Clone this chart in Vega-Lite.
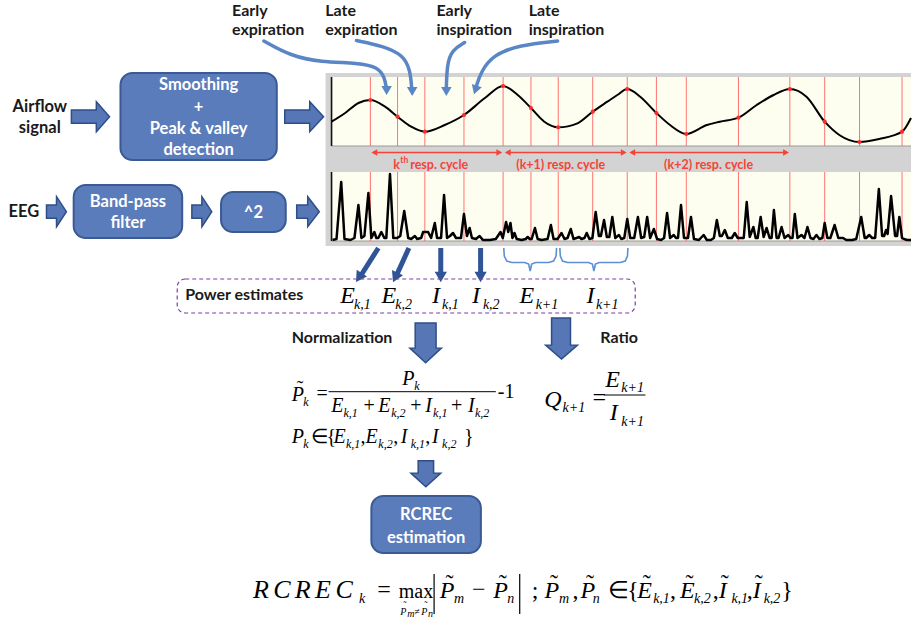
{
"$schema": "https://vega.github.io/schema/vega-lite/v6.json",
"width": 915, "height": 619,
"autosize": {"type": "fit", "contains": "padding"},
"padding": 0,
"background": "white",
"config": {"view": {"stroke": null}},
"datasets": {
"gray": [{"x": 327, "x2": 915, "y": 73, "y2": 246}],
"cream": [{"x": 333, "x2": 915, "y": 77, "y2": 146}, {"x": 333, "x2": 915, "y": 172, "y2": 241}],
"axv": [{"x": 333, "y": 77, "y2": 146}, {"x": 333, "y": 172, "y2": 241}],
"axh": [{"x": 333, "x2": 915, "y": 146}, {"x": 333, "x2": 915, "y": 241}],
"redv": [
{"x": 372, "y": 77, "y2": 146}, {"x": 399.3, "y": 77, "y2": 146}, {"x": 426.7, "y": 77, "y2": 146}, {"x": 466, "y": 77, "y2": 146},
{"x": 505.3, "y": 77, "y2": 146}, {"x": 533.3, "y": 77, "y2": 146}, {"x": 560.7, "y": 77, "y2": 146}, {"x": 595.3, "y": 77, "y2": 146},
{"x": 630, "y": 77, "y2": 146}, {"x": 659.3, "y": 77, "y2": 146}, {"x": 689.3, "y": 77, "y2": 146}, {"x": 741.7, "y": 77, "y2": 146},
{"x": 793.3, "y": 77, "y2": 146}, {"x": 828.3, "y": 77, "y2": 146}, {"x": 863.3, "y": 77, "y2": 146}, {"x": 906, "y": 77, "y2": 146},
{"x": 372, "y": 172, "y2": 241}, {"x": 399.3, "y": 172, "y2": 241}, {"x": 426.7, "y": 172, "y2": 241}, {"x": 466, "y": 172, "y2": 241},
{"x": 505.3, "y": 172, "y2": 241}, {"x": 533.3, "y": 172, "y2": 241}, {"x": 560.7, "y": 172, "y2": 241}, {"x": 595.3, "y": 172, "y2": 241},
{"x": 630, "y": 172, "y2": 241}, {"x": 659.3, "y": 172, "y2": 241}, {"x": 689.3, "y": 172, "y2": 241}, {"x": 741.7, "y": 172, "y2": 241},
{"x": 793.3, "y": 172, "y2": 241}, {"x": 828.3, "y": 172, "y2": 241}, {"x": 863.3, "y": 172, "y2": 241}, {"x": 906, "y": 172, "y2": 241}
],
"airflow": [
{"x": 333, "y": 121.7}, {"x": 346.7, "y": 113}, {"x": 360, "y": 103}, {"x": 372, "y": 100}, {"x": 386.7, "y": 106.7},
{"x": 399.3, "y": 116.7}, {"x": 413, "y": 126.7}, {"x": 426.7, "y": 131.7}, {"x": 446.7, "y": 125}, {"x": 466, "y": 115},
{"x": 486.7, "y": 98.3}, {"x": 505.3, "y": 86}, {"x": 520, "y": 95}, {"x": 533.3, "y": 108}, {"x": 546.7, "y": 121.7},
{"x": 560.7, "y": 127.3}, {"x": 580, "y": 123.3}, {"x": 595.3, "y": 111.7}, {"x": 610, "y": 101.7}, {"x": 620, "y": 95},
{"x": 630, "y": 89}, {"x": 643, "y": 96.7}, {"x": 659.3, "y": 113}, {"x": 673, "y": 125}, {"x": 689.3, "y": 134},
{"x": 710, "y": 125}, {"x": 723, "y": 121.7}, {"x": 741.7, "y": 117.7}, {"x": 760, "y": 105}, {"x": 777, "y": 95},
{"x": 793.3, "y": 89}, {"x": 810, "y": 96.7}, {"x": 828.3, "y": 121.7}, {"x": 843, "y": 135}, {"x": 863.3, "y": 142},
{"x": 883, "y": 139}, {"x": 906, "y": 131.7}, {"x": 915, "y": 118}
],
"reddots": [
{"x": 372, "y": 100}, {"x": 399.3, "y": 116.7}, {"x": 426.7, "y": 131.7}, {"x": 466, "y": 115}, {"x": 505.3, "y": 86},
{"x": 533.3, "y": 108}, {"x": 560.7, "y": 127.3}, {"x": 595.3, "y": 111.7}, {"x": 630, "y": 89}, {"x": 659.3, "y": 113},
{"x": 689.3, "y": 134}, {"x": 741.7, "y": 117.7}, {"x": 793.3, "y": 89}, {"x": 828.3, "y": 121.7}, {"x": 863.3, "y": 142},
{"x": 906, "y": 131.7}
],
"eeg": [
{"x": 334, "y": 240}, {"x": 338, "y": 239}, {"x": 342.7, "y": 182}, {"x": 346, "y": 239}, {"x": 352, "y": 240},
{"x": 356, "y": 238}, {"x": 360, "y": 205}, {"x": 363, "y": 238}, {"x": 366, "y": 236}, {"x": 370, "y": 193},
{"x": 373, "y": 238}, {"x": 376, "y": 232}, {"x": 378, "y": 238}, {"x": 380, "y": 238}, {"x": 383, "y": 232},
{"x": 386, "y": 238}, {"x": 388, "y": 238}, {"x": 391.7, "y": 174}, {"x": 395, "y": 238}, {"x": 399, "y": 238},
{"x": 402, "y": 236}, {"x": 406, "y": 211}, {"x": 410, "y": 238}, {"x": 413, "y": 239}, {"x": 416.7, "y": 236},
{"x": 419, "y": 239}, {"x": 423, "y": 238}, {"x": 425, "y": 232}, {"x": 430, "y": 232}, {"x": 433, "y": 238},
{"x": 436.7, "y": 223}, {"x": 439, "y": 238}, {"x": 443, "y": 238}, {"x": 446, "y": 195}, {"x": 449, "y": 238},
{"x": 452, "y": 236}, {"x": 455, "y": 233}, {"x": 458, "y": 238}, {"x": 463, "y": 238}, {"x": 466, "y": 214},
{"x": 469, "y": 236}, {"x": 471.7, "y": 228}, {"x": 474, "y": 238}, {"x": 478, "y": 239}, {"x": 481.7, "y": 236},
{"x": 485, "y": 240}, {"x": 492, "y": 240}, {"x": 498, "y": 239}, {"x": 502.7, "y": 232}, {"x": 505, "y": 238},
{"x": 508.3, "y": 222}, {"x": 510.5, "y": 232}, {"x": 512.7, "y": 223}, {"x": 514.7, "y": 238}, {"x": 516.7, "y": 233},
{"x": 519, "y": 239}, {"x": 524, "y": 240}, {"x": 528, "y": 239}, {"x": 530, "y": 237}, {"x": 532, "y": 239},
{"x": 534, "y": 239}, {"x": 537.3, "y": 228}, {"x": 540, "y": 239}, {"x": 544, "y": 240}, {"x": 550, "y": 239},
{"x": 553.3, "y": 225}, {"x": 556, "y": 239}, {"x": 560, "y": 239}, {"x": 564, "y": 233}, {"x": 567, "y": 239},
{"x": 570, "y": 238}, {"x": 573.3, "y": 229}, {"x": 576, "y": 239}, {"x": 579, "y": 238}, {"x": 581.7, "y": 237},
{"x": 584, "y": 239}, {"x": 587, "y": 238}, {"x": 589.3, "y": 233}, {"x": 592, "y": 239}, {"x": 595, "y": 238},
{"x": 598.3, "y": 212}, {"x": 601.5, "y": 236}, {"x": 603.5, "y": 236}, {"x": 606.7, "y": 220}, {"x": 609.5, "y": 237},
{"x": 612, "y": 237}, {"x": 615, "y": 217}, {"x": 618, "y": 238}, {"x": 621.7, "y": 235}, {"x": 624, "y": 239},
{"x": 627, "y": 238}, {"x": 630, "y": 219}, {"x": 633, "y": 238}, {"x": 637, "y": 238}, {"x": 640.7, "y": 217},
{"x": 644, "y": 238}, {"x": 647, "y": 237}, {"x": 650, "y": 217}, {"x": 653, "y": 238}, {"x": 656.7, "y": 229},
{"x": 660, "y": 239}, {"x": 664, "y": 240}, {"x": 667, "y": 238}, {"x": 670, "y": 213}, {"x": 673, "y": 238},
{"x": 676.7, "y": 235}, {"x": 679, "y": 238}, {"x": 681, "y": 238}, {"x": 684, "y": 205}, {"x": 687, "y": 238},
{"x": 691, "y": 238}, {"x": 694, "y": 217}, {"x": 697, "y": 239}, {"x": 702, "y": 240}, {"x": 706.7, "y": 235},
{"x": 710, "y": 240}, {"x": 714, "y": 240}, {"x": 717, "y": 238}, {"x": 720, "y": 220}, {"x": 723, "y": 236},
{"x": 725, "y": 236}, {"x": 728, "y": 230}, {"x": 731, "y": 238}, {"x": 735, "y": 238}, {"x": 738, "y": 233},
{"x": 741, "y": 238}, {"x": 744, "y": 238}, {"x": 747, "y": 238}, {"x": 750, "y": 202}, {"x": 753, "y": 237},
{"x": 756.7, "y": 227}, {"x": 759, "y": 238}, {"x": 761, "y": 238}, {"x": 764, "y": 217}, {"x": 767, "y": 237},
{"x": 770, "y": 228}, {"x": 773, "y": 238}, {"x": 775, "y": 238}, {"x": 777.3, "y": 210}, {"x": 780, "y": 238},
{"x": 782, "y": 238}, {"x": 785, "y": 227}, {"x": 788, "y": 238}, {"x": 791.7, "y": 235}, {"x": 794, "y": 238},
{"x": 796, "y": 238}, {"x": 798.3, "y": 214}, {"x": 801, "y": 238}, {"x": 805, "y": 235}, {"x": 808, "y": 238},
{"x": 811, "y": 227}, {"x": 814, "y": 238}, {"x": 817, "y": 239}, {"x": 820, "y": 235}, {"x": 823, "y": 239},
{"x": 826, "y": 238}, {"x": 828.3, "y": 223}, {"x": 831, "y": 238}, {"x": 834, "y": 238}, {"x": 838.3, "y": 225},
{"x": 842, "y": 238}, {"x": 846.7, "y": 238}, {"x": 850, "y": 240}, {"x": 856, "y": 240}, {"x": 860, "y": 239},
{"x": 865, "y": 217}, {"x": 868.5, "y": 238}, {"x": 870, "y": 238}, {"x": 873, "y": 235}, {"x": 876, "y": 238},
{"x": 879, "y": 238}, {"x": 882.7, "y": 189}, {"x": 886, "y": 236}, {"x": 888, "y": 236}, {"x": 890, "y": 230},
{"x": 891.5, "y": 234}, {"x": 895, "y": 196}, {"x": 899, "y": 236}, {"x": 901, "y": 236}, {"x": 903.3, "y": 217},
{"x": 906, "y": 238}, {"x": 908, "y": 239}, {"x": 911, "y": 240}, {"x": 915, "y": 240}
],
"cyc": [{"x": 375, "x2": 502, "y": 152.5}, {"x": 509, "x2": 627, "y": 152.5}, {"x": 634, "x2": 790, "y": 152.5}],
"cycL": [{"x": 376, "y": 152.5}, {"x": 510, "y": 152.5}, {"x": 635, "y": 152.5}],
"cycR": [{"x": 501.5, "y": 152.5}, {"x": 626.5, "y": 152.5}, {"x": 789.5, "y": 152.5}],
"boxes": [
{"x": 121, "x2": 278, "y": 73, "y2": 160},
{"x": 74, "x2": 183, "y": 185, "y2": 238},
{"x": 222, "x2": 287, "y": 192, "y2": 232},
{"x": 373, "x2": 483, "y": 496, "y2": 553}
],
"labels": [
{"k": "W", "x": 199.5, "y": 90, "t": "Smoothing"},
{"k": "W", "x": 199.5, "y": 112, "t": "+"},
{"k": "W", "x": 199.5, "y": 134, "t": "Peak & valley"},
{"k": "W", "x": 199.5, "y": 155, "t": "detection"},
{"k": "W", "x": 128.5, "y": 206.7, "t": "Band-pass"},
{"k": "W", "x": 128.5, "y": 228.3, "t": "filter"},
{"k": "W", "x": 254.5, "y": 218.3, "t": "^2"},
{"k": "W", "x": 428, "y": 520, "t": "RCREC"},
{"k": "W", "x": 428, "y": 542.5, "t": "estimation"},
{"k": "C", "x": 40, "y": 111.7, "t": "Airflow"},
{"k": "C", "x": 40, "y": 133.3, "t": "signal"},
{"k": "C", "x": 24, "y": 217.3, "t": "EEG"},
{"k": "L", "x": 233, "y": 15.5, "t": "Early"},
{"k": "L", "x": 233, "y": 34.5, "t": "expiration"},
{"k": "L", "x": 326.7, "y": 15.5, "t": "Late"},
{"k": "L", "x": 326.7, "y": 34.5, "t": "expiration"},
{"k": "L", "x": 438.3, "y": 15.5, "t": "Early"},
{"k": "L", "x": 438.3, "y": 34.5, "t": "inspiration"},
{"k": "L", "x": 531, "y": 15.5, "t": "Late"},
{"k": "L", "x": 531, "y": 34.5, "t": "inspiration"},
{"k": "L", "x": 186, "y": 300, "t": "Power estimates"},
{"k": "L", "x": 293, "y": 343, "t": "Normalization"},
{"k": "L", "x": 603, "y": 343, "t": "Ratio"},
{"k": "R", "x": 395, "y": 169, "t": "k"},
{"k": "S", "x": 402, "y": 163, "t": "th"},
{"k": "R", "x": 412, "y": 169, "t": "resp. cycle"},
{"k": "R", "x": 518.5, "y": 169, "t": "(k+1) resp. cycle"},
{"k": "R", "x": 667, "y": 169, "t": "(k+2) resp. cycle"}
],
"arrowsR": [
{"id": "a1", "x": 71.7, "y": 110, "y2": 123.3}, {"id": "a1", "x": 96.7, "y": 110, "y2": 123.3}, {"id": "a1", "x": 96.8, "y": 101.7, "y2": 131.7}, {"id": "a1", "x": 110, "y": 116.7, "y2": 116.7},
{"id": "a2", "x": 286, "y": 110, "y2": 123.3}, {"id": "a2", "x": 311, "y": 110, "y2": 123.3}, {"id": "a2", "x": 311.1, "y": 101.7, "y2": 131.7}, {"id": "a2", "x": 325, "y": 116.7, "y2": 116.7},
{"id": "a3", "x": 46.7, "y": 205, "y2": 218.3}, {"id": "a3", "x": 56.7, "y": 205, "y2": 218.3}, {"id": "a3", "x": 56.8, "y": 196.7, "y2": 226.7}, {"id": "a3", "x": 66.7, "y": 211.7, "y2": 211.7},
{"id": "a4", "x": 192.7, "y": 205, "y2": 218.3}, {"id": "a4", "x": 202.7, "y": 205, "y2": 218.3}, {"id": "a4", "x": 202.8, "y": 196.7, "y2": 226.7}, {"id": "a4", "x": 212.7, "y": 211.7, "y2": 211.7},
{"id": "a5", "x": 298, "y": 205, "y2": 218.3}, {"id": "a5", "x": 309, "y": 205, "y2": 218.3}, {"id": "a5", "x": 309.1, "y": 196.7, "y2": 226.7}, {"id": "a5", "x": 320.7, "y": 211.7, "y2": 211.7}
],
"arrowsD": [
{"id": "d1", "y": 323, "x": 417, "x2": 438}, {"id": "d1", "y": 348, "x": 417, "x2": 438}, {"id": "d1", "y": 348.1, "x": 411.7, "x2": 443.3}, {"id": "d1", "y": 362.7, "x": 427.5, "x2": 427.5},
{"id": "d2", "y": 318, "x": 554, "x2": 573}, {"id": "d2", "y": 345, "x": 554, "x2": 573}, {"id": "d2", "y": 345.1, "x": 548, "x2": 580}, {"id": "d2", "y": 359, "x": 564, "x2": 564},
{"id": "d3", "y": 460.7, "x": 420, "x2": 435.5}, {"id": "d3", "y": 473, "x": 420, "x2": 435.5}, {"id": "d3", "y": 473.1, "x": 412.7, "x2": 442.7}, {"id": "d3", "y": 486.7, "x": 427.7, "x2": 427.7}
],
"curves": [
{"id": "c1", "i": 0, "x": 265, "y": 41}, {"id": "c1", "i": 1, "x": 292, "y": 56}, {"id": "c1", "i": 2, "x": 322, "y": 62}, {"id": "c1", "i": 3, "x": 360, "y": 63}, {"id": "c1", "i": 4, "x": 380, "y": 67}, {"id": "c1", "i": 5, "x": 386.5, "y": 78}, {"id": "c1", "i": 6, "x": 388, "y": 88},
{"id": "c2", "i": 0, "x": 358, "y": 40.5}, {"id": "c2", "i": 1, "x": 385, "y": 46}, {"id": "c2", "i": 2, "x": 405, "y": 55}, {"id": "c2", "i": 3, "x": 412, "y": 70}, {"id": "c2", "i": 4, "x": 413.5, "y": 88},
{"id": "c3", "i": 0, "x": 466.7, "y": 42.5}, {"id": "c3", "i": 1, "x": 454, "y": 50}, {"id": "c3", "i": 2, "x": 449, "y": 64}, {"id": "c3", "i": 3, "x": 448.3, "y": 88},
{"id": "c4", "i": 0, "x": 560, "y": 41}, {"id": "c4", "i": 1, "x": 522, "y": 45}, {"id": "c4", "i": 2, "x": 495, "y": 55}, {"id": "c4", "i": 3, "x": 483, "y": 72}, {"id": "c4", "i": 4, "x": 478.5, "y": 86}
],
"cheadsA": [{"x": 388.3, "y": 90.5}, {"x": 414, "y": 91.5}, {"x": 448.3, "y": 91.5}],
"cheadsB": [{"x": 477.5, "y": 90}],
"darr": [
{"x": 380, "y": 248, "x2": 361.5, "y2": 277}, {"x": 410.7, "y": 248, "x2": 397.5, "y2": 277},
{"x": 442.7, "y": 248, "x2": 442.7, "y2": 276}, {"x": 482.7, "y": 248, "x2": 482.7, "y2": 276}
],
"dh33": [{"x": 360.5, "y": 277.5}],
"dh25": [{"x": 397, "y": 277.5}],
"dh0": [{"x": 442.7, "y": 277}, {"x": 482.7, "y": 277}],
"braces": [
{"id": "b1", "i": 0, "x": 506, "y": 248}, {"id": "b1", "i": 1, "x": 506.5, "y": 256}, {"id": "b1", "i": 2, "x": 509, "y": 261}, {"id": "b1", "i": 3, "x": 514, "y": 262.5}, {"id": "b1", "i": 4, "x": 527, "y": 262.5}, {"id": "b1", "i": 5, "x": 531, "y": 264}, {"id": "b1", "i": 6, "x": 532.5, "y": 271}, {"id": "b1", "i": 7, "x": 534, "y": 264}, {"id": "b1", "i": 8, "x": 538, "y": 262.5}, {"id": "b1", "i": 9, "x": 551, "y": 262.5}, {"id": "b1", "i": 10, "x": 556, "y": 261}, {"id": "b1", "i": 11, "x": 558.5, "y": 256}, {"id": "b1", "i": 12, "x": 559, "y": 248},
{"id": "b2", "i": 0, "x": 562.3, "y": 248}, {"id": "b2", "i": 1, "x": 562.8, "y": 256}, {"id": "b2", "i": 2, "x": 565, "y": 261}, {"id": "b2", "i": 3, "x": 570, "y": 262.5}, {"id": "b2", "i": 4, "x": 591, "y": 262.5}, {"id": "b2", "i": 5, "x": 595, "y": 264}, {"id": "b2", "i": 6, "x": 596.5, "y": 271}, {"id": "b2", "i": 7, "x": 598, "y": 264}, {"id": "b2", "i": 8, "x": 602, "y": 262.5}, {"id": "b2", "i": 9, "x": 623, "y": 262.5}, {"id": "b2", "i": 10, "x": 628, "y": 261}, {"id": "b2", "i": 11, "x": 630.2, "y": 256}, {"id": "b2", "i": 12, "x": 630.7, "y": 248}
],
"dash": [{"x": 178, "x2": 638, "y": 279, "y2": 313}],
"fbars": [{"x": 330, "x2": 498, "y": 391.7}, {"x": 606.7, "x2": 648.3, "y": 395}],
"absbars": [{"x": 436, "y": 574, "y2": 614}, {"x": 522, "y": 574, "y2": 614}],
"math": [
{"k": "m24", "x": 341.7, "y": 303, "t": "E"}, {"k": "s14", "x": 355.5, "y": 309, "t": "k,1"},
{"k": "m24", "x": 383.3, "y": 303, "t": "E"}, {"k": "s14", "x": 397, "y": 309, "t": "k,2"},
{"k": "m24", "x": 434, "y": 303, "t": "I"}, {"k": "s14", "x": 444, "y": 309, "t": "k,1"},
{"k": "m24", "x": 474, "y": 303, "t": "I"}, {"k": "s14", "x": 485, "y": 309, "t": "k,2"},
{"k": "m24", "x": 521.7, "y": 303, "t": "E"}, {"k": "s14", "x": 538, "y": 309, "t": "k+1"},
{"k": "m24", "x": 589, "y": 303, "t": "I"}, {"k": "s14", "x": 598.5, "y": 309, "t": "k+1"},
{"k": "m20", "x": 293, "y": 401, "t": "P"}, {"k": "o20", "x": 298, "y": 395, "t": "˜"}, {"k": "s12", "x": 304.5, "y": 406, "t": "k"}, {"k": "o20", "x": 318, "y": 400, "t": "="},
{"k": "m20", "x": 404, "y": 385, "t": "P"}, {"k": "s12", "x": 416, "y": 390, "t": "k"},
{"k": "m20", "x": 332.7, "y": 411.7, "t": "E"}, {"k": "s12", "x": 345, "y": 416.7, "t": "k,1"}, {"k": "o20", "x": 365, "y": 411.7, "t": "+"},
{"k": "m20", "x": 380, "y": 411.7, "t": "E"}, {"k": "s12", "x": 393, "y": 416.7, "t": "k,2"}, {"k": "o20", "x": 412, "y": 411.7, "t": "+"},
{"k": "m20", "x": 427, "y": 411.7, "t": "I"}, {"k": "s12", "x": 435, "y": 416.7, "t": "k,1"}, {"k": "o20", "x": 453, "y": 411.7, "t": "+"},
{"k": "m20", "x": 470, "y": 411.7, "t": "I"}, {"k": "s12", "x": 477, "y": 416.7, "t": "k,2"},
{"k": "o20", "x": 500, "y": 397.5, "t": "-1"},
{"k": "m20", "x": 293, "y": 443, "t": "P"}, {"k": "s12", "x": 304.5, "y": 448, "t": "k"}, {"k": "o20", "x": 312.5, "y": 443, "t": "∈"}, {"k": "o20", "x": 328, "y": 443, "t": "{"},
{"k": "m20", "x": 335, "y": 443, "t": "E"}, {"k": "s12", "x": 347.5, "y": 448, "t": "k,1"}, {"k": "o20", "x": 362, "y": 443, "t": ","},
{"k": "m20", "x": 367, "y": 443, "t": "E"}, {"k": "s12", "x": 380, "y": 448, "t": "k,2"}, {"k": "o20", "x": 395, "y": 443, "t": ","},
{"k": "m20", "x": 402.5, "y": 443, "t": "I"}, {"k": "s12", "x": 412.5, "y": 448, "t": "k,1"}, {"k": "o20", "x": 427, "y": 443, "t": ","},
{"k": "m20", "x": 434, "y": 443, "t": "I"}, {"k": "s12", "x": 444, "y": 448, "t": "k,2"}, {"k": "o20", "x": 466, "y": 443, "t": "}"},
{"k": "m24", "x": 546.7, "y": 407, "t": "Q"}, {"k": "s14", "x": 565, "y": 412, "t": "k+1"}, {"k": "o24", "x": 595, "y": 405, "t": "="},
{"k": "m24", "x": 608, "y": 386.7, "t": "E"}, {"k": "s14", "x": 624, "y": 392, "t": "k+1"},
{"k": "m24", "x": 612.5, "y": 420, "t": "I"}, {"k": "s14", "x": 624, "y": 426, "t": "k+1"},
{"k": "m26", "x": 254, "y": 598, "t": "R"}, {"k": "m26", "x": 274.5, "y": 598, "t": "C"}, {"k": "m26", "x": 296, "y": 598, "t": "R"}, {"k": "m26", "x": 316.5, "y": 598, "t": "E"}, {"k": "m26", "x": 337, "y": 598, "t": "C"},
{"k": "s14", "x": 360.5, "y": 603, "t": "k"}, {"k": "o24", "x": 379, "y": 597, "t": "="}, {"k": "o20", "x": 400.5, "y": 598, "t": "max"},
{"k": "s10", "x": 402, "y": 615, "t": "P"}, {"k": "s10", "x": 404.5, "y": 609, "t": "˜"}, {"k": "s10", "x": 409, "y": 617, "t": "m"}, {"k": "s10", "x": 416, "y": 615, "t": "≠"},
{"k": "s10", "x": 423, "y": 615, "t": "P"}, {"k": "s10", "x": 425.5, "y": 609, "t": "˜"}, {"k": "s10", "x": 430, "y": 617, "t": "n"},
{"k": "m24", "x": 441.8, "y": 598, "t": "P"}, {"k": "o24", "x": 447.5, "y": 591, "t": "˜"}, {"k": "s14", "x": 456, "y": 603, "t": "m"},
{"k": "o24", "x": 474, "y": 597, "t": "−"},
{"k": "m24", "x": 495.4, "y": 598, "t": "P"}, {"k": "o24", "x": 501, "y": 591, "t": "˜"}, {"k": "s14", "x": 509.6, "y": 603, "t": "n"},
{"k": "o24", "x": 534, "y": 598, "t": ";"},
{"k": "m24", "x": 547, "y": 598, "t": "P"}, {"k": "o24", "x": 552.5, "y": 591, "t": "˜"}, {"k": "s14", "x": 561.4, "y": 603, "t": "m"}, {"k": "o24", "x": 575, "y": 598, "t": ","},
{"k": "m24", "x": 583, "y": 598, "t": "P"}, {"k": "o24", "x": 588.5, "y": 591, "t": "˜"}, {"k": "s14", "x": 595.4, "y": 603, "t": "n"},
{"k": "o24", "x": 611, "y": 598, "t": "∈"}, {"k": "o24", "x": 630, "y": 598, "t": "{"},
{"k": "m24", "x": 640, "y": 598, "t": "E"}, {"k": "o24", "x": 645.5, "y": 591, "t": "˜"}, {"k": "s14", "x": 656, "y": 603, "t": "k,1"}, {"k": "o24", "x": 673, "y": 598, "t": ","},
{"k": "m24", "x": 683, "y": 598, "t": "E"}, {"k": "o24", "x": 688.5, "y": 591, "t": "˜"}, {"k": "s14", "x": 697, "y": 603, "t": "k,2"}, {"k": "o24", "x": 716, "y": 598, "t": ","},
{"k": "m24", "x": 722, "y": 598, "t": "I"}, {"k": "o24", "x": 724, "y": 591, "t": "˜"}, {"k": "s14", "x": 734.6, "y": 603, "t": "k,1"}, {"k": "o24", "x": 750, "y": 598, "t": ","},
{"k": "m24", "x": 756, "y": 598, "t": "I"}, {"k": "o24", "x": 758, "y": 591, "t": "˜"}, {"k": "s14", "x": 767, "y": 603, "t": "k,2"}, {"k": "o24", "x": 784.6, "y": 598, "t": "}"}
]
},
"encoding": {
"x": {"field": "x", "type": "quantitative", "scale": {"domain": [0, 915], "nice": false, "zero": false}, "axis": null},
"y": {"field": "y", "type": "quantitative", "scale": {"domain": [0, 619], "nice": false, "zero": false, "reverse": true}, "axis": null}
},
"layer": [
{"data": {"name": "gray"}, "mark": {"type": "rect", "fill": "#d3d3d3"}, "encoding": {"x2": {"field": "x2"}, "y2": {"field": "y2"}}},
{"data": {"name": "cream"}, "mark": {"type": "rect", "fill": "#fefef0"}, "encoding": {"x2": {"field": "x2"}, "y2": {"field": "y2"}}},
{"data": {"name": "axh"}, "mark": {"type": "rule", "stroke": "#9a9a9a", "strokeWidth": 1.2}, "encoding": {"x2": {"field": "x2"}}},
{"data": {"name": "redv"}, "mark": {"type": "rule", "stroke": "#ff5c5c", "strokeWidth": 1, "opacity": 0.85}, "encoding": {"y2": {"field": "y2"}}},
{"data": {"name": "axv"}, "mark": {"type": "rule", "stroke": "#111111", "strokeWidth": 1.6}, "encoding": {"y2": {"field": "y2"}}},
{"data": {"name": "airflow"}, "mark": {"type": "line", "interpolate": "monotone", "stroke": "#000000", "strokeWidth": 2}, "encoding": {}},
{"data": {"name": "reddots"}, "mark": {"type": "point", "filled": true, "fill": "#ff2a2a", "size": 18, "opacity": 1, "strokeWidth": 0}, "encoding": {}},
{"data": {"name": "eeg"}, "mark": {"type": "line", "stroke": "#000000", "strokeWidth": 2.5, "strokeJoin": "round"}, "encoding": {}},
{"data": {"name": "cyc"}, "mark": {"type": "rule", "stroke": "#f5433a", "strokeWidth": 1.5}, "encoding": {"x2": {"field": "x2"}}},
{"data": {"name": "cycL"}, "mark": {"type": "point", "shape": "triangle-left", "filled": true, "fill": "#f5433a", "size": 45, "opacity": 1, "strokeWidth": 0}, "encoding": {}},
{"data": {"name": "cycR"}, "mark": {"type": "point", "shape": "triangle-right", "filled": true, "fill": "#f5433a", "size": 45, "opacity": 1, "strokeWidth": 0}, "encoding": {}},
{"data": {"name": "boxes"}, "mark": {"type": "rect", "fill": "#5b7cbb", "stroke": "#3a5a94", "strokeWidth": 2, "cornerRadius": 12}, "encoding": {"x2": {"field": "x2"}, "y2": {"field": "y2"}}},
{"data": {"name": "arrowsR"}, "mark": {"type": "area", "orient": "vertical", "fill": "#5676b6", "fillOpacity": 1, "stroke": "#2f4e88", "strokeWidth": 1.5}, "encoding": {"y2": {"field": "y2"}, "detail": {"field": "id"}}},
{"data": {"name": "arrowsD"}, "mark": {"type": "area", "orient": "horizontal", "fill": "#5676b6", "fillOpacity": 1, "stroke": "#2f4e88", "strokeWidth": 1.5}, "encoding": {"x2": {"field": "x2"}, "detail": {"field": "id"}}},
{"data": {"name": "curves"}, "mark": {"type": "line", "interpolate": "basis", "stroke": "#5a86c6", "strokeWidth": 3.5, "strokeCap": "round"}, "encoding": {"detail": {"field": "id"}, "order": {"field": "i", "type": "quantitative"}}},
{"data": {"name": "cheadsA"}, "mark": {"type": "point", "shape": "triangle-down", "filled": true, "fill": "#5a86c6", "size": 110, "opacity": 1, "strokeWidth": 0}, "encoding": {}},
{"data": {"name": "cheadsB"}, "mark": {"type": "point", "shape": "triangle-down", "angle": 18, "filled": true, "fill": "#5a86c6", "size": 110, "opacity": 1, "strokeWidth": 0}, "encoding": {}},
{"data": {"name": "darr"}, "mark": {"type": "rule", "stroke": "#2f5597", "strokeWidth": 5}, "encoding": {"x2": {"field": "x2"}, "y2": {"field": "y2"}}},
{"data": {"name": "dh33"}, "mark": {"type": "point", "shape": "triangle-down", "angle": 33, "filled": true, "fill": "#2f5597", "size": 150, "opacity": 1, "strokeWidth": 0}, "encoding": {}},
{"data": {"name": "dh25"}, "mark": {"type": "point", "shape": "triangle-down", "angle": 25, "filled": true, "fill": "#2f5597", "size": 150, "opacity": 1, "strokeWidth": 0}, "encoding": {}},
{"data": {"name": "dh0"}, "mark": {"type": "point", "shape": "triangle-down", "filled": true, "fill": "#2f5597", "size": 150, "opacity": 1, "strokeWidth": 0}, "encoding": {}},
{"data": {"name": "braces"}, "mark": {"type": "line", "stroke": "#5b8fd6", "strokeWidth": 1.6}, "encoding": {"detail": {"field": "id"}, "order": {"field": "i", "type": "quantitative"}}},
{"data": {"name": "dash"}, "mark": {"type": "rect", "fill": null, "fillOpacity": 0, "stroke": "#7a3fa6", "strokeWidth": 1.2, "strokeDash": [4, 3], "cornerRadius": 8}, "encoding": {"x2": {"field": "x2"}, "y2": {"field": "y2"}}},
{"data": {"name": "fbars"}, "mark": {"type": "rule", "stroke": "#000000", "strokeWidth": 1}, "encoding": {"x2": {"field": "x2"}}},
{"data": {"name": "absbars"}, "mark": {"type": "rule", "stroke": "#000000", "strokeWidth": 1.2}, "encoding": {"y2": {"field": "y2"}}},
{"data": {"name": "labels"}, "transform": [{"filter": "datum.k === 'W'"}], "mark": {"type": "text", "align": "center", "baseline": "alphabetic", "font": "Lato", "fontWeight": "bold", "fontSize": 16.5, "fill": "#ffffff"}, "encoding": {"text": {"field": "t"}}},
{"data": {"name": "labels"}, "transform": [{"filter": "datum.k === 'C'"}], "mark": {"type": "text", "align": "center", "baseline": "alphabetic", "font": "Lato", "fontWeight": "bold", "fontSize": 16.5, "fill": "#1a1a1a"}, "encoding": {"text": {"field": "t"}}},
{"data": {"name": "labels"}, "transform": [{"filter": "datum.k === 'L'"}], "mark": {"type": "text", "align": "left", "baseline": "alphabetic", "font": "Lato", "fontWeight": "bold", "fontSize": 16, "fill": "#1a1a1a"}, "encoding": {"text": {"field": "t"}}},
{"data": {"name": "labels"}, "transform": [{"filter": "datum.k === 'R'"}], "mark": {"type": "text", "align": "left", "baseline": "alphabetic", "font": "Lato", "fontWeight": "bold", "fontSize": 12.5, "fill": "#f5433a"}, "encoding": {"text": {"field": "t"}}},
{"data": {"name": "labels"}, "transform": [{"filter": "datum.k === 'S'"}], "mark": {"type": "text", "align": "left", "baseline": "alphabetic", "font": "Lato", "fontWeight": "bold", "fontSize": 8.5, "fill": "#f5433a"}, "encoding": {"text": {"field": "t"}}},
{"data": {"name": "math"}, "transform": [{"filter": "datum.k === 'm26'"}], "mark": {"type": "text", "align": "left", "baseline": "alphabetic", "font": "Liberation Serif", "fontStyle": "italic", "fontSize": 26, "fill": "#000000"}, "encoding": {"text": {"field": "t"}}},
{"data": {"name": "math"}, "transform": [{"filter": "datum.k === 'm24'"}], "mark": {"type": "text", "align": "left", "baseline": "alphabetic", "font": "Liberation Serif", "fontStyle": "italic", "fontSize": 24, "fill": "#000000"}, "encoding": {"text": {"field": "t"}}},
{"data": {"name": "math"}, "transform": [{"filter": "datum.k === 's14'"}], "mark": {"type": "text", "align": "left", "baseline": "alphabetic", "font": "Liberation Serif", "fontStyle": "italic", "fontSize": 14, "fill": "#000000"}, "encoding": {"text": {"field": "t"}}},
{"data": {"name": "math"}, "transform": [{"filter": "datum.k === 'o24'"}], "mark": {"type": "text", "align": "left", "baseline": "alphabetic", "font": "Liberation Serif", "fontSize": 24, "fill": "#000000"}, "encoding": {"text": {"field": "t"}}},
{"data": {"name": "math"}, "transform": [{"filter": "datum.k === 'm20'"}], "mark": {"type": "text", "align": "left", "baseline": "alphabetic", "font": "Liberation Serif", "fontStyle": "italic", "fontSize": 20, "fill": "#000000"}, "encoding": {"text": {"field": "t"}}},
{"data": {"name": "math"}, "transform": [{"filter": "datum.k === 's12'"}], "mark": {"type": "text", "align": "left", "baseline": "alphabetic", "font": "Liberation Serif", "fontStyle": "italic", "fontSize": 12, "fill": "#000000"}, "encoding": {"text": {"field": "t"}}},
{"data": {"name": "math"}, "transform": [{"filter": "datum.k === 'o20'"}], "mark": {"type": "text", "align": "left", "baseline": "alphabetic", "font": "Liberation Serif", "fontSize": 20, "fill": "#000000"}, "encoding": {"text": {"field": "t"}}},
{"data": {"name": "math"}, "transform": [{"filter": "datum.k === 's10'"}], "mark": {"type": "text", "align": "left", "baseline": "alphabetic", "font": "Liberation Serif", "fontStyle": "italic", "fontSize": 10, "fill": "#000000"}, "encoding": {"text": {"field": "t"}}}
]
}
